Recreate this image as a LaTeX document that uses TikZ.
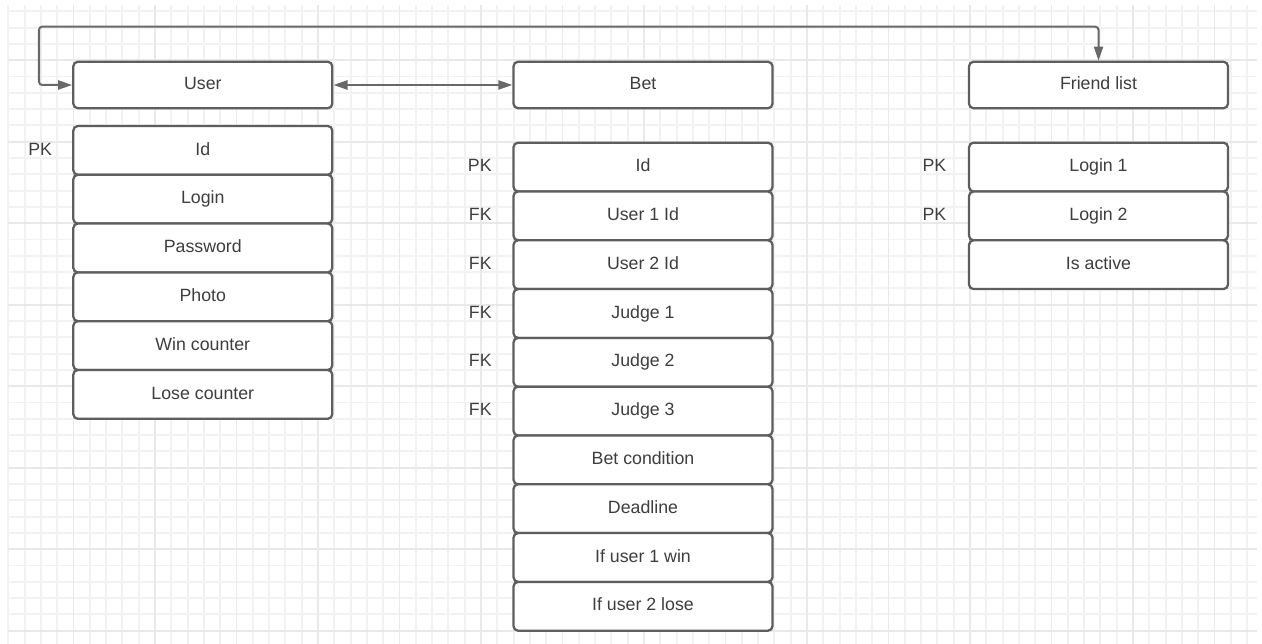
\documentclass[tikz,border=0pt]{standalone}
\usepackage{fontspec}
\setmainfont{Liberation Sans}
\usetikzlibrary{arrows.meta}
\definecolor{gridminor}{RGB}{242,242,242}
\definecolor{gridmajor}{RGB}{233,233,233}
\definecolor{boxline}{RGB}{94,94,94}
\definecolor{textgray}{RGB}{62,62,62}
\definecolor{linkgray}{RGB}{104,104,104}

\begin{document}
\begin{tikzpicture}[
  field/.style={draw=boxline,line width=0.65pt,rounded corners=1.3pt,fill=white,
    minimum width=2.59cm,minimum height=0.488cm,inner sep=0pt,text=textgray,
    font=\fontsize{5.05pt}{6pt}\selectfont,text height=0.12cm,text depth=0.027cm},
  head/.style={field,minimum height=0.465cm},
  key/.style={anchor=east,inner sep=0pt,text=textgray,
    font=\fontsize{5.05pt}{6pt}\selectfont,text height=0.12cm,text depth=0.027cm},
  link/.style={draw=linkgray,line width=0.57pt,rounded corners=0.9pt,
    {Triangle[length=4pt,width=2.6pt]}-{Triangle[length=4pt,width=2.6pt]}}
]
\clip (0,0) rectangle (12.62,6.44);
\begin{scope}[shift={(0.083,0.133)}]
\draw[gridminor,line width=0.55pt,step=0.163] (0,-0.133) grid (12.49,6.257);
\end{scope}
\begin{scope}[shift={(0.735,0.133)}]
\draw[gridmajor,line width=0.55pt,step=0.815] (-0.652,-0.133) grid (11.838,6.257);
\end{scope}

\node[head] (user) at (2.028,5.59) {User};
\node[head] (bet) at (6.43,5.59) {Bet};
\node[head] (friends) at (10.985,5.59) {Friend list};

\node[field] (uid) at (2.028,4.936) {Id};
\node[field] (ulogin) at (2.028,4.448) {Login};
\node[field] (upass) at (2.028,3.960) {Password};
\node[field] (uphoto) at (2.028,3.472) {Photo};
\node[field] (uwin) at (2.028,2.984) {Win counter};
\node[field] (ulose) at (2.028,2.496) {Lose counter};
\node[key] (uidkey) at (0.527,4.936) {PK};

\node[field] (bid) at (6.43,4.769) {Id};
\node[field] (buser1) at (6.43,4.281) {User 1 Id};
\node[field] (buser2) at (6.43,3.793) {User 2 Id};
\node[field] (bjudge1) at (6.43,3.305) {Judge 1};
\node[field] (bjudge2) at (6.43,2.817) {Judge 2};
\node[field] (bjudge3) at (6.43,2.329) {Judge 3};
\node[field] (bcond) at (6.43,1.841) {Bet condition};
\node[field] (bdeadline) at (6.43,1.353) {Deadline};
\node[field] (bwin) at (6.43,0.865) {If user 1 win};
\node[field] (blose) at (6.43,0.377) {If user 2 lose};
\node[key] (bidkey) at (4.923,4.769) {PK};
\node[key] (buser1key) at (4.923,4.281) {FK};
\node[key] (buser2key) at (4.923,3.793) {FK};
\node[key] (bjudge1key) at (4.923,3.305) {FK};
\node[key] (bjudge2key) at (4.923,2.817) {FK};
\node[key] (bjudge3key) at (4.923,2.329) {FK};

\node[field] (flogin1) at (10.985,4.769) {Login 1};
\node[field] (flogin2) at (10.985,4.281) {Login 2};
\node[field] (factive) at (10.985,3.793) {Is active};
\node[key] (flogin1key) at (9.47,4.769) {PK};
\node[key] (flogin2key) at (9.47,4.281) {PK};

\coordinate (loop) at (0.39,6.173);
\draw[link] (user.west) -| (loop) -| (friends.north);
\draw[link] (user.east) -- (bet.west);
\end{tikzpicture}
\end{document}
